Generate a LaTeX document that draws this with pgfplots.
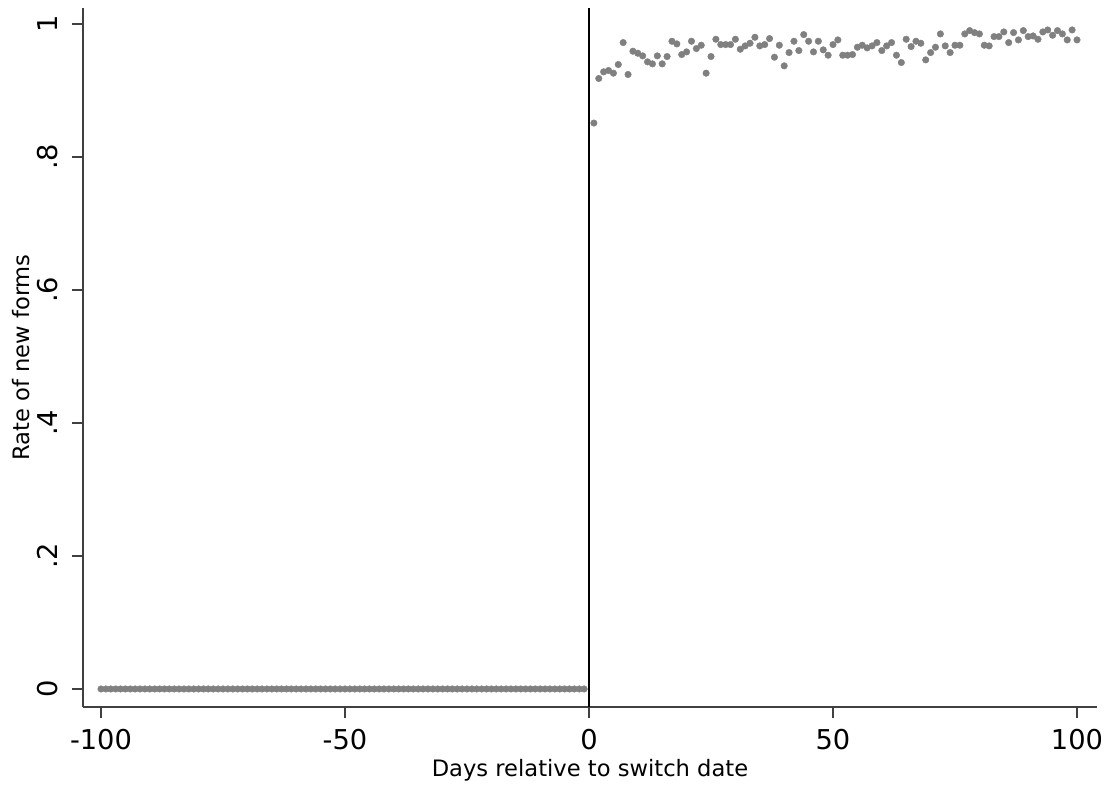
\documentclass[border=0pt]{standalone}
\usepackage{pgfplots}
\pgfplotsset{compat=1.18}
\usepackage{pgfplotstable}
\usepackage{fontspec}
\setmainfont{DejaVu Sans}

\definecolor{markgray}{RGB}{128,128,128}
\definecolor{axisgray}{RGB}{64,64,64}

% Days before the switch: no new forms
\pgfplotstableread{
day rate
-100 0
-99 0
-98 0
-97 0
-96 0
-95 0
-94 0
-93 0
-92 0
-91 0
-90 0
-89 0
-88 0
-87 0
-86 0
-85 0
-84 0
-83 0
-82 0
-81 0
-80 0
-79 0
-78 0
-77 0
-76 0
-75 0
-74 0
-73 0
-72 0
-71 0
-70 0
-69 0
-68 0
-67 0
-66 0
-65 0
-64 0
-63 0
-62 0
-61 0
-60 0
-59 0
-58 0
-57 0
-56 0
-55 0
-54 0
-53 0
-52 0
-51 0
-50 0
-49 0
-48 0
-47 0
-46 0
-45 0
-44 0
-43 0
-42 0
-41 0
-40 0
-39 0
-38 0
-37 0
-36 0
-35 0
-34 0
-33 0
-32 0
-31 0
-30 0
-29 0
-28 0
-27 0
-26 0
-25 0
-24 0
-23 0
-22 0
-21 0
-20 0
-19 0
-18 0
-17 0
-16 0
-15 0
-14 0
-13 0
-12 0
-11 0
-10 0
-9 0
-8 0
-7 0
-6 0
-5 0
-4 0
-3 0
-2 0
-1 0
}\before

% Days after the switch
\pgfplotstableread{
day rate
1 0.851
2 0.918
3 0.928
4 0.930
5 0.926
6 0.939
7 0.972
8 0.924
9 0.959
10 0.956
11 0.952
12 0.943
13 0.940
14 0.952
15 0.940
16 0.951
17 0.974
18 0.970
19 0.954
20 0.958
21 0.974
22 0.963
23 0.968
24 0.926
25 0.951
26 0.977
27 0.969
28 0.969
29 0.969
30 0.977
31 0.962
32 0.967
33 0.971
34 0.980
35 0.967
36 0.969
37 0.978
38 0.950
39 0.968
40 0.937
41 0.957
42 0.974
43 0.960
44 0.984
45 0.974
46 0.958
47 0.974
48 0.961
49 0.953
50 0.969
51 0.976
52 0.953
53 0.953
54 0.954
55 0.965
56 0.968
57 0.964
58 0.967
59 0.972
60 0.960
61 0.967
62 0.972
63 0.953
64 0.942
65 0.977
66 0.966
67 0.974
68 0.971
69 0.946
70 0.957
71 0.965
72 0.985
73 0.967
74 0.957
75 0.968
76 0.968
77 0.985
78 0.990
79 0.987
80 0.985
81 0.968
82 0.967
83 0.981
84 0.981
85 0.988
86 0.972
87 0.987
88 0.976
89 0.990
90 0.981
91 0.982
92 0.977
93 0.988
94 0.991
95 0.983
96 0.990
97 0.985
98 0.976
99 0.991
100 0.976
}\after

\begin{document}
\begin{tikzpicture}
\useasboundingbox (-83bp,-79bp) rectangle (1029bp,707bp);
\begin{axis}[
  scale only axis,
  width=1014bp, height=699bp,
  xmin=-103.69, xmax=104.1,
  ymin=-0.0271, ymax=1.024,
  axis x line*=bottom,
  axis y line*=left,
  axis line style={axisgray, line width=1.3bp, -},
  tick style={axisgray, line width=1.3bp},
  tick align=outside,
  major tick length=11bp,
  xtick={-100,-50,0,50,100},
  ytick={0,0.2,0.4,0.6,0.8,1},
  yticklabels={0,.2,.4,.6,.8,1},
  /pgf/number format/assume math mode=true,
  ticklabel style={font=\fontsize{27.4}{30}\selectfont, black},
  xticklabel style={anchor=north, yshift=-8bp},
  yticklabel style={rotate=90, anchor=base, yshift=14.5bp},
  xlabel={Days relative to switch date},
  ylabel={Rate of new forms},
  label style={font=\fontsize{22.7}{25}\selectfont, black},
  xlabel style={at={(axis description cs:0.5,0)}, anchor=base, yshift=-69bp},
  ylabel style={at={(axis description cs:0,0.5)}, anchor=base, yshift=53.7bp},
  clip=false,
]
\addplot [only marks, mark=*, mark size=3.3pt, color=markgray, mark options={draw=markgray, fill=markgray}] table [x=day, y=rate] {\before};
\addplot [only marks, mark=*, mark size=3.3pt, color=markgray, mark options={draw=markgray, fill=markgray}] table [x=day, y=rate] {\after};
% switch date
\addplot [black, line width=2bp, no marks] coordinates {(0,-0.0271) (0,1.024)};
\end{axis}
\end{tikzpicture}
\end{document}
